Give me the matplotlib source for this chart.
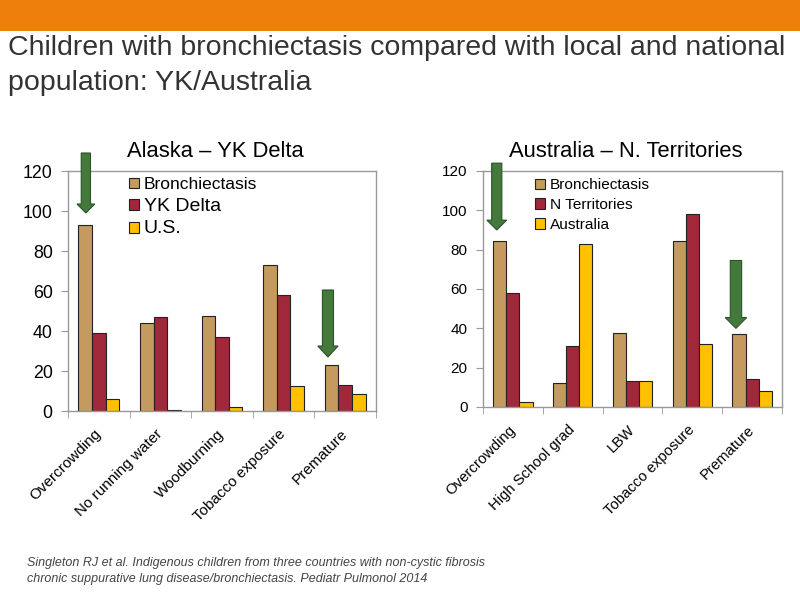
import matplotlib
matplotlib.use('Agg')
import matplotlib.pyplot as plt
from matplotlib.patches import Rectangle, FancyArrow
import numpy as np

# data
ak_cats = ['Overcrowding', 'No running water', 'Woodburning', 'Tobacco exposure', 'Premature']
ak_bronch = [93, 44, 47.5, 73, 23]
ak_yk = [39, 47, 37, 58, 13]
ak_us = [6, 0.7, 2, 12.3, 8.3]
ak_labels = ['Bronchiectasis', 'YK Delta', 'U.S.']

au_cats = ['Overcrowding', 'High School grad', 'LBW', 'Tobacco exposure', 'Premature']
au_bronch = [84.2, 12.4, 37.5, 84.5, 37.2]
au_nt = [58, 31, 13, 98, 14]
au_aus = [2.5, 83, 13, 32, 8]
au_labels = ['Bronchiectasis', 'N Territories', 'Australia']

c_tan = '#C49A5E'
c_red = '#A1283A'
c_yel = '#FFC000'
c_green = '#437A3C'
plt.rcParams['font.family'] = ['Liberation Sans', 'DejaVu Sans']

fig = plt.figure(figsize=(8, 6), dpi=100)
fig.patch.set_facecolor('white')
fig.add_artist(Rectangle((0, 1 - 31/600), 1, 31/600, transform=fig.transFigure,
                         color='#EF7F0C', lw=0))
fig.text(0.010, 0.920, 'Children with bronchiectasis compared with local and national',
         fontsize=20.5, color='#333333', va='center')
fig.text(0.010, 0.862, 'population: YK/Australia', fontsize=20.5,
         color='#333333', va='center')
fig.text(0.034, 0.048, 'Singleton RJ et al. Indigenous children from three countries with non-cystic fibrosis\n'
         'chronic suppurative lung disease/bronchiectasis. Pediatr Pulmonol 2014',
         fontsize=9, style='italic', color='#444444', va='center',
         linespacing=1.45)


def panel(rect, cats, series, labels, title, tsize, lsizes, xsize, legx, legy, hl, ls):
    ax = fig.add_axes(rect)
    x = np.arange(len(cats))
    w = 0.22
    for i, (vals, col) in enumerate(zip(series, [c_tan, c_red, c_yel])):
        ax.bar(x + (i - 1) * w, vals, w, color=col, edgecolor='#222222', lw=0.8,
               label=labels[i], zorder=2)
    ax.set_xlim(-0.5, len(cats) - 0.5)
    ax.set_ylim(0, 120)
    ax.set_yticks(range(0, 121, 20))
    ax.set_xticks(x)
    ax.set_xticklabels(cats, rotation=45, ha='right', va='center',
                       rotation_mode='anchor', fontsize=xsize)
    ax.set_xticks(np.arange(-0.5, len(cats), 1), minor=True)
    ax.tick_params(axis='x', which='major', length=0, pad=15)
    ax.tick_params(axis='x', which='minor', length=5, color='#999999', direction='out')
    ax.tick_params(axis='y', length=5, color='#999999', labelsize=tsize, pad=6)
    for s in ax.spines.values():
        s.set_color('#999999')
        s.set_linewidth(1)
    leg = ax.legend(loc='upper left', bbox_to_anchor=(legx, legy), frameon=False,
                    handlelength=hl, handleheight=hl, handletextpad=0.3,
                    labelspacing=ls, borderpad=0, borderaxespad=0,
                    fontsize=lsizes[0])
    for t, s in zip(leg.get_texts(), lsizes):
        t.set_fontsize(s)
    ax.set_title(title, fontsize=15.8, pad=10, x=0.477)
    return ax


ax1 = panel([68/800, 1 - 411/600, 308/800, 240/600], ak_cats,
            [ak_bronch, ak_yk, ak_us], ak_labels, 'Alaska \u2013 YK Delta',
            12.8, [12.5, 14, 14], 11, 0.198, 0.975, 0.55, 0.33)
ax2 = panel([483/800, 1 - 407/600, 299/800, 236/600], au_cats,
            [au_bronch, au_nt, au_aus], au_labels, 'Australia \u2013 N. Territories',
            11, [11.1, 11.1, 11.1], 10.7, 0.174, 0.97, 0.65, 0.38)


def arrow(ax, xc, ytop, ytip, sw, hw, hl):
    a = FancyArrow(xc, ytop, 0, ytip - ytop, width=sw, head_width=hw, head_length=hl,
                   length_includes_head=True, facecolor=c_green, edgecolor='#2B5228',
                   lw=0.8, clip_on=False, zorder=5)
    ax.add_patch(a)


arrow(ax1, -0.21, 129, 99, 0.15, 0.29, 4.5)
arrow(ax1, 3.72, 60.5, 27, 0.18, 0.33, 5.5)
arrow(ax2, -0.27, 124, 90, 0.17, 0.33, 5)
arrow(ax2, 3.73, 74.5, 40, 0.19, 0.36, 5.5)

fig.savefig('out.png', dpi=100)
